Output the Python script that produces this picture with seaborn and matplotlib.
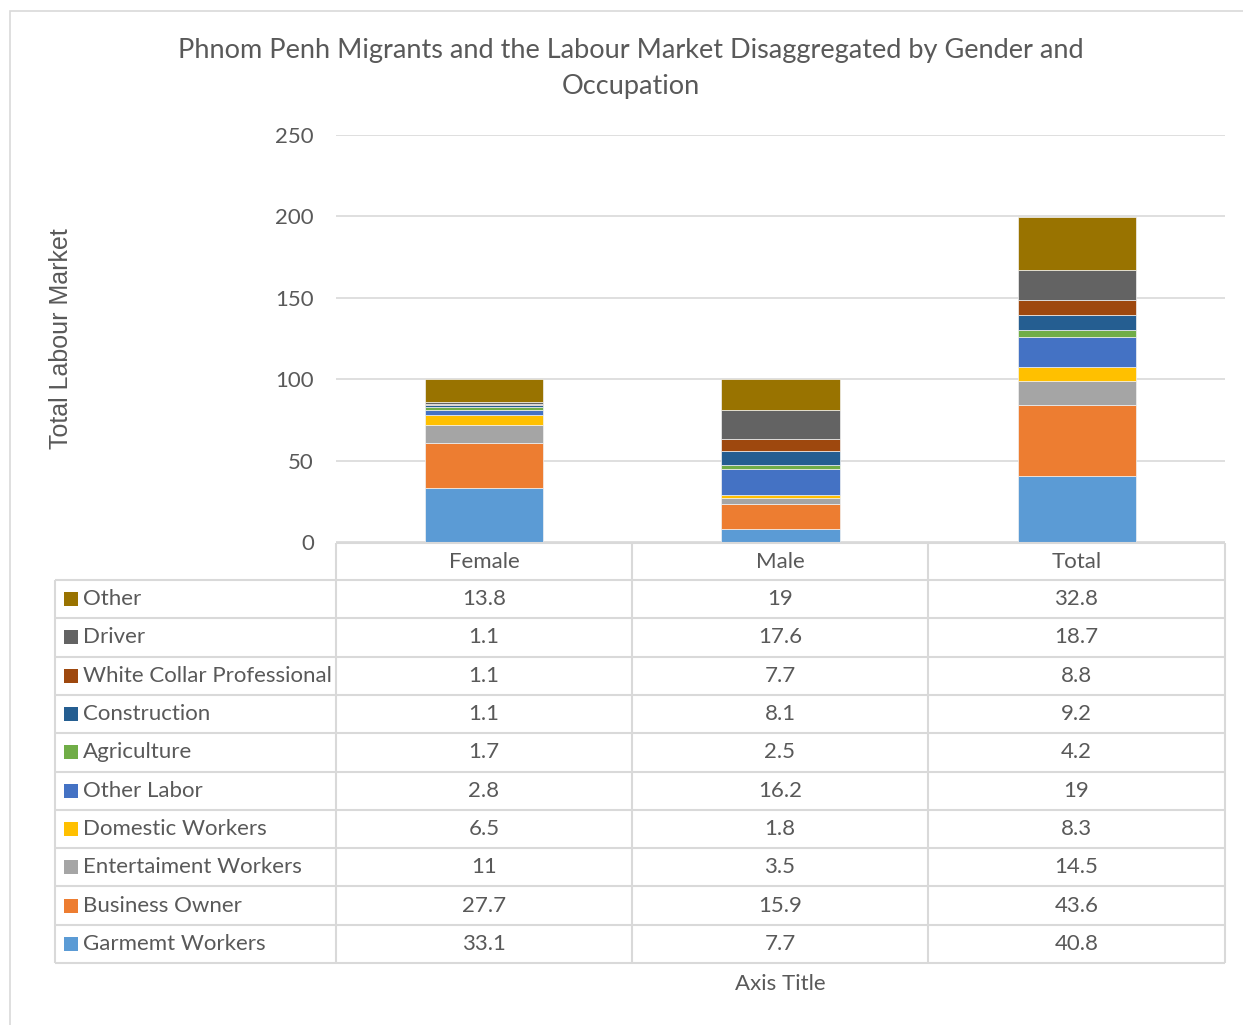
import numpy as np
import pandas as pd
import seaborn as sns
import matplotlib.pyplot as plt
from matplotlib.patches import Rectangle

groups = ['Female', 'Male', 'Total']
occupations = ['Garmemt Workers', 'Business Owner', 'Entertaiment Workers', 'Domestic Workers',
               'Other Labor', 'Agriculture', 'Construction', 'White Collar Professional',
               'Driver', 'Other']
female = [33.1, 27.7, 11, 6.5, 2.8, 1.7, 1.1, 1.1, 1.1, 13.8]
male = [7.7, 15.9, 3.5, 1.8, 16.2, 2.5, 8.1, 7.7, 17.6, 19]
total = [40.8, 43.6, 14.5, 8.3, 19, 4.2, 9.2, 8.8, 18.7, 32.8]
colors = ['#5B9BD5', '#ED7D31', '#A5A5A5', '#FFC000', '#4472C4',
          '#70AD47', '#255E91', '#9E480E', '#636363', '#997300']

df = pd.DataFrame({'Occupation': occupations, 'Female': female, 'Male': male, 'Total': total})

sns.set_theme(style='white')
plt.rcParams['font.family'] = ['Lato', 'DejaVu Sans']
TXT = '#595959'
GRID = '#D9D9D9'
FS = 16

W, H = 1243, 1025
fig = plt.figure(figsize=(W / 100, H / 100), dpi=100)

# outer chart border
fig.patches.append(Rectangle((10 / W, -0.01), 1.1, 1 - 11 / H + 0.01, transform=fig.transFigure,
                             fill=False, edgecolor=GRID, linewidth=1.2))

# plot area
x0, x1, ytop, ybot = 336, 1225, 135, 542
ax = fig.add_axes([x0 / W, 1 - ybot / H, (x1 - x0) / W, (ybot - ytop) / H])

bottom = np.zeros(len(groups))
for i, occ in enumerate(occupations):
    vals = df.loc[i, groups].values.astype(float)
    sns.barplot(x=groups, y=vals, bottom=bottom, color=colors[i], width=0.4,
                ax=ax, edgecolor='#F2F2F2', linewidth=0.5, saturation=1)
    bottom += vals

ax.set_xlim(-0.5, 2.5)
ax.set_ylim(0, 250)
ax.set_yticks(range(0, 251, 50))
ax.yaxis.grid(True, color=GRID, linewidth=1.2)
ax.set_axisbelow(True)
for s in ax.spines.values():
    s.set_visible(False)
ax.set_xticks([])
ax.set_xlabel('')
ax.set_ylabel('')
ax.tick_params(axis='y', length=0, pad=16, labelsize=FS, labelcolor=TXT)

fig.text(61 / W, 1 - 339 / H, 'Total Labour Market', rotation=90, ha='center', va='center',
         fontsize=18, color=TXT, family=['Liberation Sans'])

# data table below the plot
tx = fig.add_axes([0, 0, 1, 1])
tx.set_xlim(0, W)
tx.set_ylim(H, 0)
tx.axis('off')

tl = 55
col_edges = [336, 632, 928, 1225]
row_top = 580
row_h = (963 - 580) / 10
lw = 1.5

# header row
tx.hlines(543, col_edges[0], x1, color=GRID, linewidth=lw)
for ce in col_edges:
    tx.vlines(ce, 543, 963, color=GRID, linewidth=lw)
for j, g in enumerate(groups):
    tx.text((col_edges[j] + col_edges[j + 1]) / 2, (543 + row_top) / 2 + 1, g,
            ha='center', va='center', fontsize=FS, color=TXT)

# body rows, top row is the last series
tx.vlines(tl, row_top, 963, color=GRID, linewidth=lw)
for r in range(11):
    tx.hlines(row_top + r * row_h, tl, x1, color=GRID, linewidth=lw)
for r, i in enumerate(range(len(occupations) - 1, -1, -1)):
    yc = row_top + (r + 0.5) * row_h
    tx.add_patch(Rectangle((64, yc - 7), 14, 14, facecolor=colors[i], edgecolor='none'))
    tx.text(83, yc, occupations[i], ha='left', va='center', fontsize=FS, color=TXT)
    for j, g in enumerate(groups):
        v = df.loc[i, g]
        tx.text((col_edges[j] + col_edges[j + 1]) / 2, yc, f'{v:g}',
                ha='center', va='center', fontsize=FS, color=TXT)

tx.text(780, 984, 'Axis Title', ha='center', va='center', fontsize=FS, color=TXT)

fig.text(631 / W, 1 - 68 / H,
         'Phnom Penh Migrants and the Labour Market Disaggregated by Gender and\nOccupation',
         ha='center', va='center', fontsize=19.5, color=TXT, linespacing=1.55)

fig.savefig('out.png', dpi=100)
